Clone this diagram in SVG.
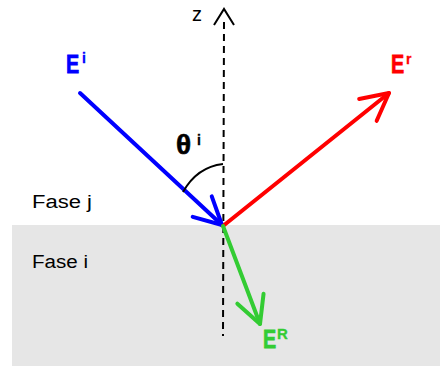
<svg xmlns="http://www.w3.org/2000/svg" width="441" height="367" viewBox="0 0 441 367">
<style>
.lbl{font-family:"Liberation Sans",Arial,sans-serif;font-weight:bold}
.big{font-size:26px;stroke-width:0.8}
.sup{font-size:14px;stroke-width:0.3}
.fase{font-family:"Liberation Sans",Arial,sans-serif;font-size:18px;fill:#000}
.ray{fill:none;stroke-width:4;stroke-linecap:round}
.head{fill:none;stroke-width:4;stroke-linecap:round;stroke-linejoin:round}
</style>
<defs>
<marker id="hb" markerUnits="userSpaceOnUse" orient="auto" refX="0" refY="0" markerWidth="60" markerHeight="60" viewBox="-30 -30 60 60" overflow="visible">
<path class="head" d="M-27,-14 L0,0 L-27,14" stroke="#0000ff"/>
</marker>
<marker id="hr" markerUnits="userSpaceOnUse" orient="auto" refX="0" refY="0" markerWidth="60" markerHeight="60" viewBox="-30 -30 60 60" overflow="visible">
<path class="head" d="M-27,-14 L0,0 L-27,14" stroke="#ff0000"/>
</marker>
<marker id="hg" markerUnits="userSpaceOnUse" orient="auto" refX="0" refY="0" markerWidth="60" markerHeight="60" viewBox="-30 -30 60 60" overflow="visible">
<path class="head" d="M-27,-14 L0,0 L-27,14" stroke="#33cc33"/>
</marker>
</defs>
<rect id="fase-i-region" x="12" y="225" width="428" height="141" fill="#e6e6e6"/>
<g id="axis">
<line x1="224" y1="22" x2="223" y2="336" stroke="#000" stroke-width="2" stroke-dasharray="7,5"/>
<path d="M214,25 L224,9 L234,25" fill="none" stroke="#000" stroke-width="2"/>
<text x="192" y="21" class="fase" style="font-size:20px">z</text>
</g>
<g id="connectors">
<line class="ray" x1="80" y1="93" x2="222" y2="225" stroke="#0000ff" marker-end="url(#hb)"/>
<line class="ray" x1="223" y1="226" x2="389" y2="93" stroke="#ff0000" marker-end="url(#hr)"/>
<line class="ray" x1="223" y1="226" x2="260" y2="324" stroke="#33cc33" marker-end="url(#hg)"/>
<path d="M183,192 Q197,167 223,164" fill="none" stroke="#000" stroke-width="2"/>
</g>
<g id="E-incident" fill="#0000ff" stroke="#0000ff">
<text class="lbl big" transform="translate(66,73) scale(0.76,1)">E</text>
<text class="lbl sup" x="82" y="63">i</text>
</g>
<g id="E-reflected" fill="#ff0000" stroke="#ff0000">
<text class="lbl big" transform="translate(391,73) scale(0.76,1)">E</text>
<text class="lbl sup" x="406" y="64">r</text>
</g>
<g id="E-refracted" fill="#33cc33" stroke="#33cc33">
<text class="lbl big" transform="translate(263,348) scale(0.76,1)">E</text>
<text class="lbl sup" x="277" y="339" style="font-size:15px">R</text>
</g>
<g id="theta" fill="#000" stroke="#000">
<text class="lbl big" x="176" y="154" style="font-size:28px;stroke-width:0.6">θ</text>
<text class="lbl sup" x="197" y="145">i</text>
</g>
<g id="fase-j"><text class="fase" x="32" y="208" textLength="60" lengthAdjust="spacingAndGlyphs">Fase j</text></g>
<g id="fase-i"><text class="fase" x="32" y="268" textLength="56" lengthAdjust="spacingAndGlyphs">Fase i</text></g>
</svg>
